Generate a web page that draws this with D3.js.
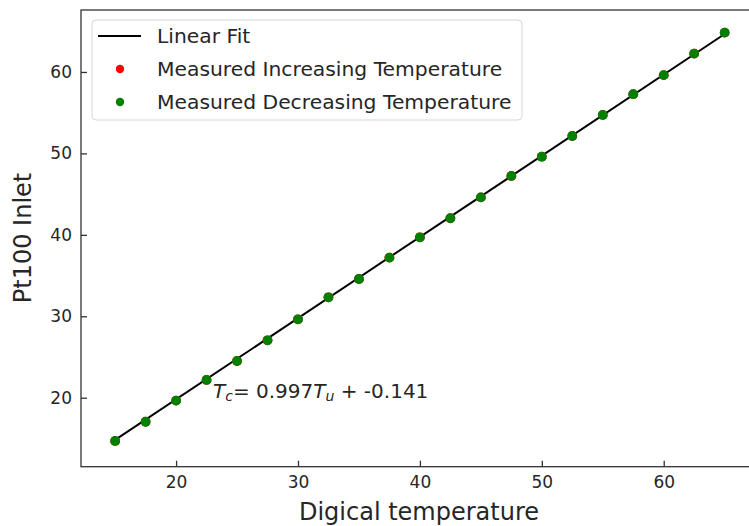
<!DOCTYPE html>
<html>
<head>
<meta charset="utf-8">
<script src="https://cdn.jsdelivr.net/npm/d3@7"></script>
<style>
  html, body { margin: 0; padding: 0; background: #fff; }
  svg { display: block; font-family: "DejaVu Sans", sans-serif; }
</style>
</head>
<body>
<div id="chart"></div>
<script>
// readings
const digitalTemps = [15, 17.5, 20, 22.5, 25, 27.5, 30, 32.5, 35, 37.5, 40, 42.5, 45, 47.5, 50, 52.5, 55, 57.5, 60, 62.5, 65];
const increasingTemps = [14.69, 17.05, 19.64, 22.18, 24.51, 27.05, 29.63, 32.33, 34.58, 37.20, 39.70, 42.04, 44.60, 47.23, 49.60, 52.14, 54.72, 57.27, 59.61, 62.25, 64.83];
const decreasingTemps = [14.69, 17.05, 19.64, 22.18, 24.51, 27.05, 29.63, 32.33, 34.58, 37.20, 39.70, 42.04, 44.60, 47.23, 49.60, 52.14, 54.72, 57.27, 59.61, 62.25, 64.83];
const fitSlope = 0.997;
const fitIntercept = -0.141;
const xTicks = [20, 30, 40, 50, 60];
const yTicks = [20, 30, 40, 50, 60];
const legendItems = [
  { kind: "line", label: "Linear Fit", color: "#000" },
  { kind: "dot", label: "Measured Increasing Temperature", color: "red" },
  { kind: "dot", label: "Measured Decreasing Temperature", color: "green" },
];

const width = 749;
const height = 526;
const textColor = "#262626";
const spineColor = "#333";

const x = d3.scaleLinear().domain([12.2, 67.8]).range([81, 758.8]);
const y = d3.scaleLinear().domain([11.53, 67.61]).range([466.7, 10]);

const svg = d3.select("#chart")
  .append("svg")
  .attr("width", width)
  .attr("height", height)
  .attr("viewBox", `0 0 ${width} ${height}`);

// spines
svg.append("rect")
  .attr("x", x.range()[0])
  .attr("y", y.range()[1])
  .attr("width", x.range()[1] - x.range()[0])
  .attr("height", y.range()[0] - y.range()[1])
  .attr("fill", "none")
  .attr("stroke", spineColor)
  .attr("stroke-width", 1.3);

// inward ticks
const xAxis = svg.append("g")
  .attr("transform", `translate(0,${y.range()[0]})`)
  .call(d3.axisBottom(x).tickValues(xTicks).tickSizeInner(-6).tickSizeOuter(0).tickPadding(10));
const yAxis = svg.append("g")
  .attr("transform", `translate(${x.range()[0]},0)`)
  .call(d3.axisLeft(y).tickValues(yTicks).tickSizeInner(-6).tickSizeOuter(0).tickPadding(10));

[xAxis, yAxis].forEach((axis) => {
  axis.select(".domain").remove();
  axis.selectAll(".tick line").attr("stroke", spineColor).attr("stroke-width", 1.3);
  axis.selectAll(".tick text")
    .attr("fill", textColor)
    .attr("font-size", 17)
    .attr("font-family", "DejaVu Sans, sans-serif");
});
xAxis.selectAll(".tick text").attr("dy", "0.71em").attr("y", 9);
yAxis.selectAll(".tick text").attr("x", -9);

// fit line
const fitX = d3.extent(digitalTemps);
svg.append("line")
  .attr("x1", x(fitX[0]))
  .attr("y1", y(fitSlope * fitX[0] + fitIntercept))
  .attr("x2", x(fitX[1]))
  .attr("y2", y(fitSlope * fitX[1] + fitIntercept))
  .attr("stroke", "#000")
  .attr("stroke-width", 2);

// measured points
svg.append("g")
  .selectAll("circle")
  .data(digitalTemps.map((d, i) => [d, increasingTemps[i]]))
  .join("circle")
  .attr("cx", (d) => x(d[0]))
  .attr("cy", (d) => y(d[1]))
  .attr("r", 4.9)
  .attr("fill", "red");

svg.append("g")
  .selectAll("circle")
  .data(digitalTemps.map((d, i) => [d, decreasingTemps[i]]))
  .join("circle")
  .attr("cx", (d) => x(d[0]))
  .attr("cy", (d) => y(d[1]))
  .attr("r", 4.9)
  .attr("fill", "green");

// annotation
const note = svg.append("text")
  .attr("x", 213)
  .attr("y", 398)
  .attr("font-size", 20)
  .attr("fill", textColor);
note.append("tspan").attr("font-style", "italic").text("T");
note.append("tspan").attr("font-style", "italic").attr("font-size", 14).attr("dy", 3).text("c");
note.append("tspan").attr("dy", -3).text("= 0.997");
note.append("tspan").attr("font-style", "italic").text("T");
note.append("tspan").attr("font-style", "italic").attr("font-size", 14).attr("dy", 3).text("u");
note.append("tspan").attr("dy", -3).text(" + -0.141");

// legend
const legend = svg.append("g");
legend.append("rect")
  .attr("x", 92)
  .attr("y", 20)
  .attr("width", 430)
  .attr("height", 100)
  .attr("rx", 4)
  .attr("fill", "#fff")
  .attr("fill-opacity", 0.8)
  .attr("stroke", "#d6d6d6")
  .attr("stroke-width", 1);

legendItems.forEach((item, i) => {
  const cy = 36 + i * 33;
  if (item.kind === "line") {
    legend.append("line")
      .attr("x1", 98).attr("x2", 141)
      .attr("y1", cy).attr("y2", cy)
      .attr("stroke", item.color)
      .attr("stroke-width", 2);
  } else {
    legend.append("circle")
      .attr("cx", 120).attr("cy", cy)
      .attr("r", 4.2)
      .attr("fill", item.color);
  }
  legend.append("text")
    .attr("x", 157)
    .attr("y", cy + 7)
    .attr("font-size", 20.3)
    .attr("fill", textColor)
    .text(item.label);
});

// axis labels
svg.append("text")
  .attr("x", 419)
  .attr("y", 520)
  .attr("text-anchor", "middle")
  .attr("font-size", 24)
  .attr("fill", textColor)
  .text("Digical temperature");

svg.append("text")
  .attr("transform", "translate(31,238) rotate(-90)")
  .attr("text-anchor", "middle")
  .attr("font-size", 24)
  .attr("fill", textColor)
  .text("Pt100 Inlet");
</script>
</body>
</html>
